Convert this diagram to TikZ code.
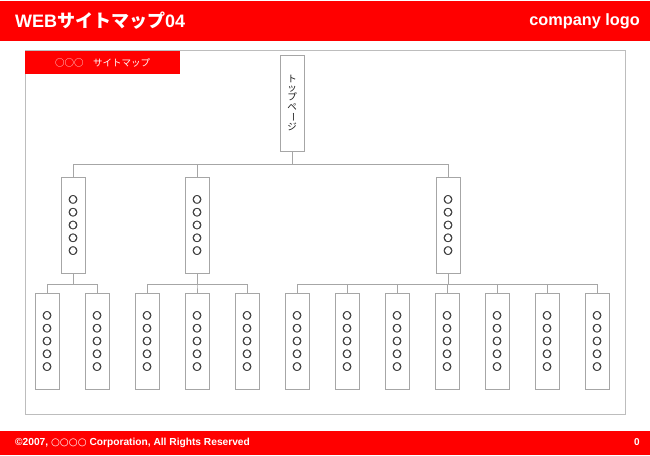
\documentclass[tikz,border=0pt]{standalone}
\usepackage{fontspec}
\setmainfont{Liberation Sans}
\newfontfamily\cjk{Noto Sans CJK JP}
\newfontfamily\circfont{DejaVu Sans}[FakeBold=1.6]
\newfontfamily\circplain{DejaVu Sans}
\definecolor{hdrred}{HTML}{FF0000}
\definecolor{linegray}{HTML}{A6A6A6}
\definecolor{framegray}{HTML}{BDBDBD}
\definecolor{dotgray}{HTML}{3C3C3C}
\newcommand\fivecirc{○\\○\\○\\○\\○}
\tikzset{
  pagebox/.style={draw=linegray, line width=1pt, fill=white, minimum width=24pt, minimum height=96pt, inner sep=0pt, align=center, text=dotgray, font=\circfont\fontsize{11}{12.8}\selectfont},
  link/.style={draw=linegray, line width=1pt},
  band/.style={fill=hdrred, draw=none}
}
\begin{document}
\begin{tikzpicture}[x=1pt,y=-1pt]
\useasboundingbox (0,0) rectangle (650,455);
\fill[white] (0,0) rectangle (650,455);
% header and footer
\fill[band] (0,1) rectangle (650,41);
\fill[band] (0,431) rectangle (650,455);
\node[anchor=west, text=white, font=\fontsize{18}{20}\selectfont\bfseries, inner sep=0pt] (title) at (15,21) {WEB{\cjk\bfseries サイトマップ}04};
\node[anchor=east, text=white, font=\fontsize{16.3}{18}\selectfont\bfseries, inner sep=0pt] (logo) at (640,21) {company logo};
\node[anchor=west, text=white, font=\fontsize{10.2}{11}\selectfont\bfseries, inner sep=0pt] (copy) at (15,443) {©2007, {\circplain ○○○○} Corporation, All Rights Reserved};
\node[text=white, font=\fontsize{10}{11}\selectfont\bfseries, inner sep=0pt] (pnum) at (637,442) {0};
% frame
\draw[framegray, line width=1pt] (25,50) rectangle (625,414);
\fill[band] (25,50.5) rectangle (180,74);
\node[text=white, font=\cjk\fontsize{9.5}{10}\selectfont, inner sep=0pt] (label) at (102.5,63) {○○○　サイトマップ};
% top page
\node[pagebox, font=\cjk\fontsize{9.5}{9.3}\selectfont, text=black!90] (top) at (292,103) {ト\\ッ\\プ\\ペ\\\rotatebox[origin=c]{-90}{ー}\\ジ};
% level 2
\node[pagebox] (a) at (73,225) {\fivecirc};
\node[pagebox] (b) at (197,225) {\fivecirc};
\node[pagebox] (c) at (448,225) {\fivecirc};
% level 3
\foreach \n/\x in {a1/47,a2/97,b1/147,b2/197,b3/247,c1/297,c2/347,c3/397,c4/447,c5/497,c6/547,c7/597}{
  \node[pagebox] (\n) at (\x,341) {\fivecirc};
}
% connectors
\foreach \ch in {a,b,c}{ \draw[link] (top.south) -- ++(0,13) -| (\ch.north); }
\foreach \ch in {a1,a2}{ \draw[link] (a.south) -- ++(0,11) -| (\ch.north); }
\foreach \ch in {b1,b2,b3}{ \draw[link] (b.south) -- ++(0,11) -| (\ch.north); }
\foreach \ch in {c1,c2,c3,c4,c5,c6,c7}{ \draw[link] (c.south) -- ++(0,11) -| (\ch.north); }
\end{tikzpicture}
\end{document}
